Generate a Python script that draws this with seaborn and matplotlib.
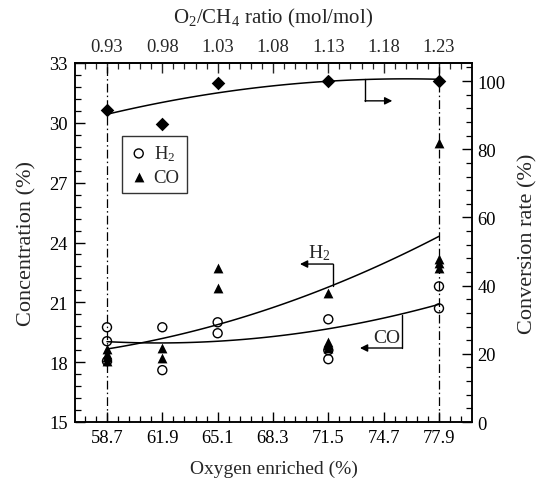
import numpy as np
import pandas as pd
import seaborn as sns
import matplotlib
matplotlib.use("Agg")
import matplotlib.pyplot as plt
from matplotlib.ticker import FixedLocator, MultipleLocator

# ---------------- data ----------------
oxygen_ticks = [58.7, 61.9, 65.1, 68.3, 71.5, 74.7, 77.9]
oxygen_labels = ["58.7", "61.9", "65.1", "68.3", "71.5", "74.7", "77.9"]
ratio_labels = ["0.93", "0.98", "1.03", "1.08", "1.13", "1.18", "1.23"]

h2_x = [58.7, 58.7, 58.7, 61.9, 61.9, 65.1, 65.1, 71.5, 71.5, 71.5, 77.9, 77.9]
h2_y = [19.75, 19.05, 18.05, 19.75, 17.6, 20.0, 19.45, 20.15, 18.6, 18.15, 21.8, 20.7]

co_x = [58.7, 58.7, 58.7, 58.7, 61.9, 61.9, 65.1, 65.1,
        71.5, 71.5, 71.5, 71.5, 77.9, 77.9, 77.9, 77.9]
co_y = [18.65, 18.4, 18.25, 18.05, 18.7, 18.2, 22.7, 21.7,
        21.45, 19.0, 18.85, 18.7, 29.0, 23.15, 22.95, 22.7]

conv_x = [58.7, 61.9, 65.1, 71.5, 77.9]
conv_y = [91.5, 87.4, 99.3, 99.9, 100.1]

# trend curves at the oxygen tick positions
curve_x = [58.7, 61.9, 65.1, 68.3, 71.5, 74.7, 77.9]
h2_curve = [18.66, 19.19, 19.88, 20.74, 21.77, 22.95, 24.31]
co_curve = [19.03, 18.96, 19.05, 19.29, 19.67, 20.21, 20.90]
conv_curve = [90.3, 93.7, 96.5, 98.6, 100.0, 100.6, 100.5]

# ---------------- style ----------------
sns.set_style("ticks")
plt.rcParams["font.family"] = ["Liberation Serif", "DejaVu Serif"]
plt.rcParams["mathtext.fontset"] = "custom"
plt.rcParams["mathtext.rm"] = "Liberation Serif"
plt.rcParams["mathtext.it"] = "Liberation Serif:italic"
plt.rcParams["axes.linewidth"] = 1.1
FS = 13.3

fig = plt.figure(figsize=(5.43, 4.85), dpi=100)
ax = fig.add_axes([75 / 543, 62 / 485, 397 / 543, 359 / 485])
ax2 = ax.twinx()

# reference dash-dot lines
for xv in (oxygen_ticks[0], oxygen_ticks[-1]):
    ax.axvline(xv, color="k", lw=0.9, ls=(0, (7, 2.5, 1.2, 2.5)), zorder=1)

# trend curves
line_kws = dict(color="k", lw=1.1)
sns.regplot(x=np.array(curve_x), y=np.array(h2_curve), order=2, ci=None,
            scatter=False, ax=ax, line_kws=line_kws)
sns.regplot(x=np.array(curve_x), y=np.array(co_curve), order=2, ci=None,
            scatter=False, ax=ax, line_kws=line_kws)
sns.regplot(x=np.array(curve_x), y=np.array(conv_curve), order=2, ci=None,
            scatter=False, ax=ax2, line_kws=line_kws)

# points
sns.scatterplot(x=h2_x, y=h2_y, marker="o", s=42, facecolor="none",
                edgecolor="k", linewidth=1.0, ax=ax, label="H$_2$", zorder=3)
sns.scatterplot(x=co_x, y=co_y, marker="^", s=50, color="k",
                linewidth=0, ax=ax, label="CO", zorder=3)
sns.scatterplot(x=conv_x, y=conv_y, marker="D", s=48, color="k",
                linewidth=0, ax=ax2, zorder=3, legend=False)

# axes limits / ticks
ax.set_xlim(56.85, 79.81)
ax.set_ylim(15, 33)
ax2.set_ylim(0, 105.3)

ax.set_xticks(oxygen_ticks, labels=oxygen_labels)
ax.xaxis.set_minor_locator(FixedLocator(np.arange(56.78, 80.0, 0.64)))
ax.set_yticks(np.arange(15, 34, 3))
ax.yaxis.set_minor_locator(MultipleLocator(0.6))
ax2.set_yticks(np.arange(0, 101, 20))
ax2.yaxis.set_minor_locator(MultipleLocator(4))

top = ax.secondary_xaxis("top")
top.set_xticks(oxygen_ticks, labels=ratio_labels)
top.xaxis.set_minor_locator(FixedLocator(np.arange(56.78, 80.0, 0.64)))

for a in (ax, ax2):
    a.tick_params(which="major", direction="in", length=7, width=1.0,
                  labelsize=FS, color="k", labelcolor="k")
    a.tick_params(which="minor", direction="in", length=4, width=0.9, color="k")
ax.tick_params(axis="x", which="both", bottom=True, top=False, pad=5)
ax.tick_params(axis="y", which="both", left=True, right=False, pad=5)
ax2.tick_params(axis="y", which="both", right=True, left=False, pad=4)
top.tick_params(which="major", direction="in", length=7, width=1.0,
                labelsize=FS, pad=6)
top.tick_params(which="minor", direction="in", length=4, width=0.9)

ax.set_xlabel("Oxygen enriched (%)", fontsize=14, labelpad=10)
ax.set_ylabel("Concentration (%)", fontsize=16, labelpad=9)
ax2.set_ylabel("Conversion rate (%)", fontsize=16, labelpad=9)
top.set_xlabel("O$_2$/CH$_4$ ratio (mol/mol)", fontsize=15, labelpad=11)

for a in (ax, ax2):
    for s in a.spines.values():
        s.set_color("k")
        s.set_linewidth(1.1)

# legend
leg = ax.legend(loc="upper left", bbox_to_anchor=(0.118, 0.797),
                borderaxespad=0, frameon=True, fancybox=False,
                edgecolor="k", fontsize=13.5, handletextpad=0.3,
                handlelength=1.0, borderpad=0.4, labelspacing=0.3)
leg.get_frame().set_linewidth(1.0)
leg.get_frame().set_facecolor("white")

# callout annotations
arrow = dict(arrowstyle="-|>", color="k", lw=1.0, mutation_scale=11,
             shrinkA=0, shrinkB=0)
# H2 callout
ax.plot([71.77, 71.77], [21.8, 22.92], color="k", lw=1.0)
ax.annotate("", xy=(69.86, 22.92), xytext=(71.77, 22.92), arrowprops=arrow)
ax.text(71.6, 23.0, "H$_2$", ha="right", va="bottom", fontsize=14)
# CO callout
ax.plot([75.76, 75.76], [20.35, 18.71], color="k", lw=1.0)
ax.annotate("", xy=(73.33, 18.71), xytext=(75.76, 18.71), arrowprops=arrow)
ax.text(75.65, 18.8, "CO", ha="right", va="bottom", fontsize=14)
# conversion callout
ax2.plot([73.62, 73.62], [100.5, 94.2], color="k", lw=1.0)
ax2.annotate("", xy=(75.2, 94.2), xytext=(73.62, 94.2), arrowprops=arrow)

fig.savefig("out.png", dpi=100)
